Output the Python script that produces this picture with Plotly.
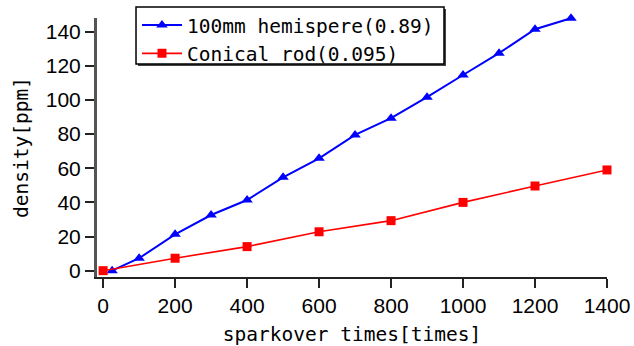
import plotly.graph_objects as go

# Measured gas density versus number of sparkovers
hemi_x = [25, 100, 200, 300, 400, 500, 600, 700, 800, 900, 1000, 1100, 1200, 1300]
hemi_y = [0, 7.3, 21.3, 32.6, 41.4, 54.7, 65.8, 79.5, 89.3, 101.6, 114.6, 127.4, 141.4, 147.9]
rod_x = [0, 200, 400, 600, 800, 1000, 1200, 1400]
rod_y = [0, 7.3, 14.1, 22.8, 29.3, 40.0, 49.6, 59.0]

hemi_name = "100mm hemispere(0.89)"
rod_name = "Conical rod(0.095)"
x_title = "sparkover times[times]"
y_title = "density[ppm]"
x_ticks = [0, 200, 400, 600, 800, 1000, 1200, 1400]
y_ticks = [0, 20, 40, 60, 80, 100, 120, 140]

MONO = "DejaVu Sans Mono, Liberation Mono, monospace"
SANS = "Liberation Sans, Arial, sans-serif"

fig = go.Figure()
fig.add_trace(go.Scatter(
    x=hemi_x, y=hemi_y, name=hemi_name, mode="lines+markers",
    line=dict(color="#0000ff", width=2),
    marker=dict(symbol="triangle-up", size=10, color="#0000ff"),
    cliponaxis=False,
))
fig.add_trace(go.Scatter(
    x=rod_x, y=rod_y, name=rod_name, mode="lines+markers",
    line=dict(color="#ff0000", width=1.6),
    marker=dict(symbol="square", size=9, color="#ff0000"),
    cliponaxis=False,
))

# Legend frame with a drop shadow (paper coordinates)
fig.add_shape(type="rect", xref="paper", yref="paper",
              x0=0.0804, x1=0.6843, y0=0.8147, y1=1.0347,
              line=dict(width=0), fillcolor="#444", layer="below")
fig.add_shape(type="rect", xref="paper", yref="paper",
              x0=0.0765, x1=0.6804, y0=0.8224, y1=1.0425,
              line=dict(color="black", width=1.5), fillcolor="white", layer="below")

fig.update_layout(
    width=634, height=346,
    margin=dict(l=97, r=27, t=18, b=69, autoexpand=False),
    paper_bgcolor="white", plot_bgcolor="rgba(0,0,0,0)",
    showlegend=True,
    legend=dict(
        x=0.0784, y=1.047, xanchor="left", yanchor="top",
        bgcolor="rgba(0,0,0,0)", borderwidth=0,
        font=dict(family=MONO, size=19.5, color="black"),
        tracegroupgap=0, itemwidth=40,
    ),
)
fig.update_xaxes(
    range=[-17, 1400], tickvals=x_ticks, automargin=False,
    showgrid=False, zeroline=False,
    showline=True, linecolor="#222", linewidth=2,
    ticks="outside", ticklen=9, tickwidth=2, tickcolor="#222",
    ticklabelstandoff=0,
    tickfont=dict(family=SANS, size=21, color="black"),
    title=dict(text=x_title, font=dict(family=MONO, size=19.5, color="black"), standoff=12),
)
fig.update_yaxes(
    range=[-3.7, 148], tickvals=y_ticks, automargin=False,
    showgrid=False, zeroline=False,
    showline=True, linecolor="#555", linewidth=3,
    ticks="outside", ticklen=9, tickwidth=2, tickcolor="#222",
    tickfont=dict(family=SANS, size=21, color="black"),
    title=dict(text=y_title, font=dict(family=MONO, size=19.5, color="black"), standoff=12),
)

fig.write_html("out.html")
